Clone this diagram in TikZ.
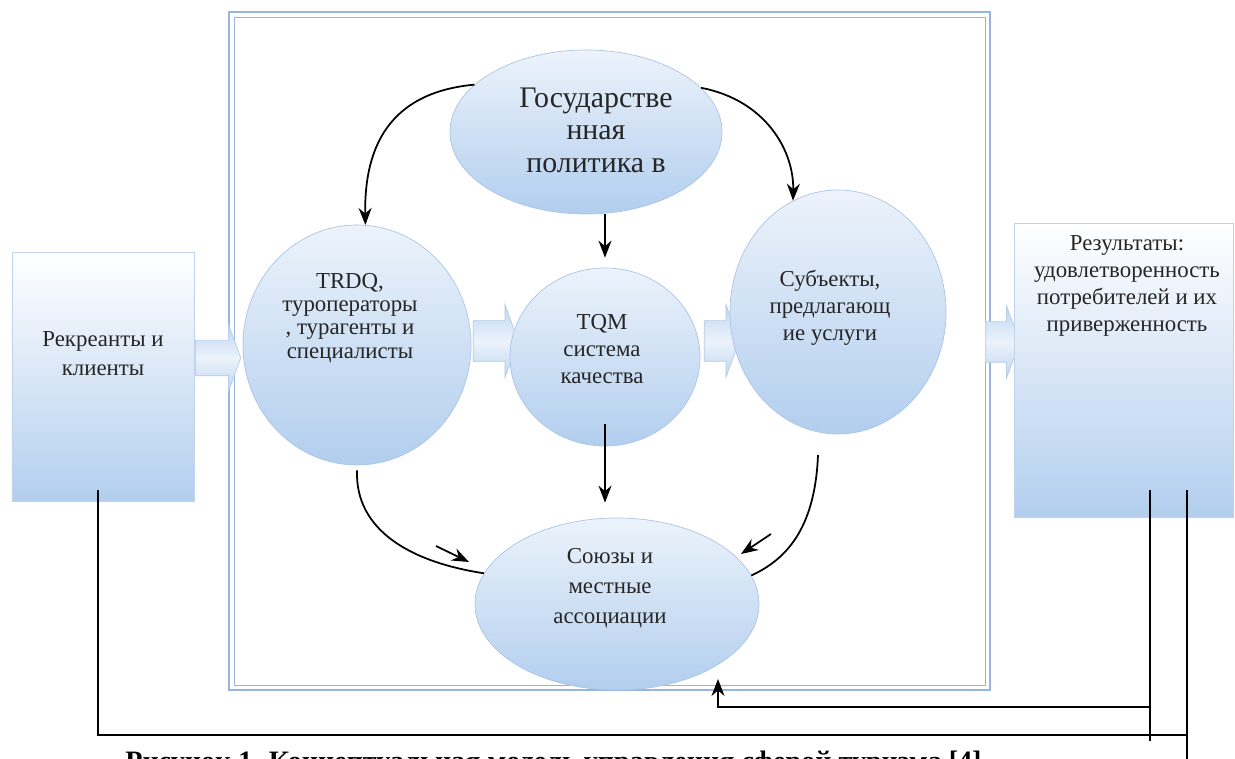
\documentclass[tikz,border=0pt]{standalone}
\usepackage{fontspec}
\setmainfont{Liberation Serif}
\usetikzlibrary{shapes.geometric,shapes.arrows,arrows.meta}
\definecolor{frameblue}{RGB}{150,182,222}
\definecolor{fillblue}{RGB}{178,206,238}
\definecolor{topblue}{RGB}{236,243,251}
\begin{document}
\begin{tikzpicture}[x=0.2mm,y=-0.2mm,
		oval/.style={ellipse, draw=frameblue!80, top color=topblue, bottom color=fillblue, inner sep=0pt},
		sidebox/.style={rectangle, draw=frameblue!60, top color=white, bottom color=fillblue, inner sep=0pt},
		fatarrow/.style={single arrow, draw=frameblue!70, top color=fillblue!85, bottom color=fillblue!85, middle color=topblue,
			inner xsep=0pt, inner ysep=0.4cm, single arrow head extend=0.32cm, single arrow tip angle=140},
		txt/.style={align=center, text=black!85, font=\fontsize{13}{15.5}\selectfont},
		link/.style={-{Stealth[length=3.4mm,width=2.6mm]}, line width=1pt}
	]
		\useasboundingbox (0,0) rectangle (1235,759);
		\clip (0,0) rectangle (1235,759);
		\fill[white] (0,0) rectangle (1235,759);

		% frame round the model
		\draw[frameblue, thick] (229,12) rectangle (990,690);
		\draw[frameblue] (234,17) rectangle (985,685);

		% block arrows
		\node[fatarrow, inner ysep=0.35cm, minimum height=0.9cm] (inArrow) at (215,358) {};
		\node[fatarrow, minimum height=0.9cm] (midArrowA) at (492,341) {};
		\node[fatarrow, minimum height=0.7cm] (midArrowB) at (718,341) {};
		\node[fatarrow, minimum height=0.68cm] (outArrow) at (999,342) {};

		% ellipses
		\node[oval, minimum width=5.44cm, minimum height=3.28cm] (gos) at (586,132) {};
		\node[oval, minimum width=4.56cm, minimum height=4.8cm] (trdq) at (357,345) {};
		\node[oval, minimum width=3.8cm, minimum height=3.56cm] (tqm) at (605,357) {};
		\node[oval, minimum width=4.32cm, minimum height=4.88cm] (subj) at (838,312) {};
		\node[oval, minimum width=5.68cm, minimum height=3.44cm] (soyuz) at (617,604) {};

		% side boxes
		\node[sidebox, minimum width=3.64cm, minimum height=4.98cm] (clients) at (103,377) {};
		\node[sidebox, minimum width=4.38cm, minimum height=5.88cm] (results) at (1124,370) {};

		% texts
		\node[txt, font=\fontsize{17}{18.5}\selectfont] (gosText) at (596,130) {Государстве\\нная\\политика в};
		\node[txt, font=\fontsize{13}{13.2}\selectfont] (trdqText) at (350,318) {TRDQ,\\туроператоры\\, турагенты и\\специалисты};
		\node[txt] (tqmText) at (602,349) {TQM\\система\\качества};
		\node[txt] (subjText) at (830,308) {Субъекты,\\предлагающ\\ие услуги};
		\node[txt, font=\fontsize{13}{17}\selectfont] (soyuzText) at (610,588) {Союзы и\\местные\\ассоциации};
		\node[txt, font=\fontsize{13}{16.5}\selectfont] (clientsText) at (103,354) {Рекреанты и\\клиенты};
		\node[txt] (resultsText) at (1127,286) {Результаты:\\удовлетворенность\\потребителей и их\\приверженность};

		% arrows inside the frame
		\draw[link] (gos.157) .. controls (395,92) and (364,140) .. (trdq.86);
		\draw[link] (gos.21) .. controls (765,100) and (794,150) .. (subj.112);
		\draw[link] (tqm.north |- gos.south) -- ([yshift=0.2cm]tqm.north);
		\draw[link] ([yshift=0.44cm]tqm.south) -- ([yshift=0.3cm]tqm.south |- soyuz.north);

		\draw[line width=1pt] ([yshift=-0.1cm]trdq.south) .. controls (355,530) and (410,562) .. (soyuz.167);
		\coordinate (leftTipA) at (436,546);
		\coordinate (leftTipB) at (469,562);
		\draw[link] (leftTipA) -- (leftTipB);

		\draw[line width=1pt] (818,455) .. controls (815,530) and (785,560) .. (soyuz.12);
		\coordinate (rightTipA) at (771,534);
		\coordinate (rightTipB) at (741,554);
		\draw[link] (rightTipA) -- (rightTipB);

		% feedback lines
		\coordinate (clFoot) at (98,490);
		\coordinate (resFootA) at (1150,490);
		\coordinate (resFootB) at (1187,490);
		\coordinate (frameIn) at (718,679);
		\draw[line width=1pt] (clFoot) -- (98,735) -- (1187,735);
		\draw[line width=1pt] (resFootB) -- (1187,759);
		\draw[line width=1pt] (resFootA) -- (1150,741);
		\draw[link] (1150,707) -- (718,707) -- (frameIn);

		% caption, cut at the bottom edge
		\node[anchor=base west, inner sep=0pt, font=\fontsize{16}{18}\selectfont\bfseries] (caption) at (125,770)
			{Рисунок 1. Концептуальная модель управления сферой туризма [4]};
	\end{tikzpicture}
\end{document}
